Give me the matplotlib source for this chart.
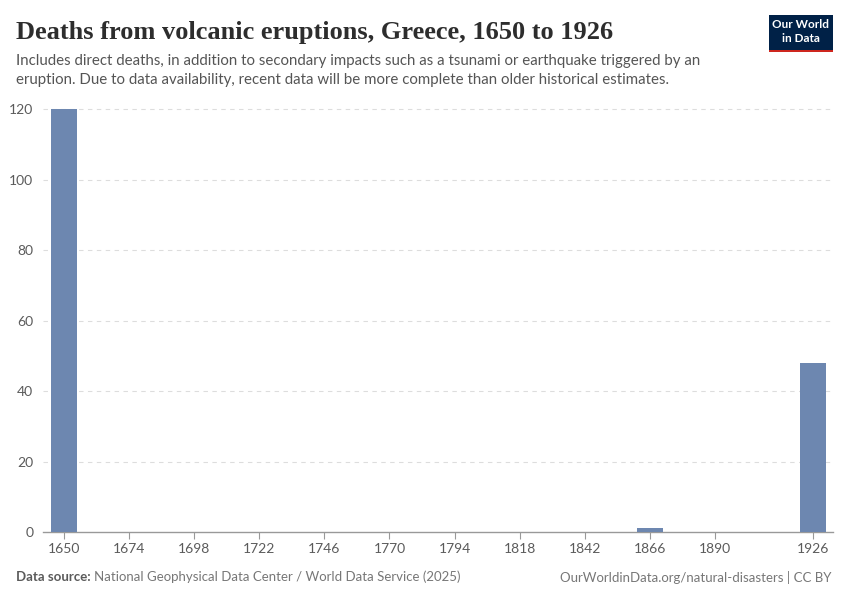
import numpy as np
import matplotlib.pyplot as plt
from matplotlib.patches import Rectangle

years = [1650, 1866, 1926]
deaths = [120, 1, 48]
xticks = [1650, 1674, 1698, 1722, 1746, 1770, 1794, 1818, 1842, 1866, 1890, 1926]
yticks = [0, 20, 40, 60, 80, 100, 120]

plt.rcParams['font.family'] = ['Lato', 'DejaVu Sans']

fig = plt.figure(figsize=(8.5, 6), dpi=100)
ax = fig.add_axes([43/850, 68/600, 790/850, 424/600])

ax.bar(years, deaths, width=9.6, color='#6d87b0', zorder=3)
ax.set_xlim(1642.3, 1933.5)
ax.set_ylim(0, 120.3)

ax.set_xticks(xticks)
ax.set_xticklabels([str(x) for x in xticks])
ax.set_yticks(yticks)
ax.tick_params(axis='x', length=5, color='#999999', labelsize=10, labelcolor='#5b5b5b', pad=3)
ax.tick_params(axis='y', length=0, labelsize=10, labelcolor='#5b5b5b', pad=7)
for lab in ax.get_yticklabels():
    lab.set_horizontalalignment('right')

for y in yticks[1:]:
    ax.axhline(y, color='#dddddd', lw=0.8, ls=(0, (4, 4)), zorder=1)

for s in ['top', 'right', 'left']:
    ax.spines[s].set_visible(False)
ax.spines['bottom'].set_color('#999999')
ax.spines['bottom'].set_linewidth(1)

fig.text(16/850, 1 - 32/600, 'Deaths from volcanic eruptions, Greece, 1650 to 1926',
         family=['Liberation Serif', 'DejaVu Serif'], fontsize=19, color='#2d2d2d', va='center',
         weight='bold')
fig.text(16/850, 1 - 61/600,
         'Includes direct deaths, in addition to secondary impacts such as a tsunami or earthquake triggered by an',
         fontsize=10.8, color='#555555', va='center')
fig.text(16/850, 1 - 80/600,
         'eruption. Due to data availability, recent data will be more complete than older historical estimates.',
         fontsize=10.8, color='#555555', va='center')

# logo
fig.patches.append(Rectangle((769/850, 1 - 52/600), 64/850, 37/600, transform=fig.transFigure,
                             facecolor='#002147', edgecolor='none'))
fig.patches.append(Rectangle((769/850, 1 - 52/600), 64/850, 2.5/600, transform=fig.transFigure,
                             facecolor='#ce261e', edgecolor='none'))
fig.text(801/850, 1 - 25/600, 'Our World', color='white', fontsize=8.5, ha='center', va='center',
         weight='bold')
fig.text(801/850, 1 - 39/600, 'in Data', color='white', fontsize=8.5, ha='center', va='center',
         weight='bold')

fig.text(16/850, 1 - 577/600, 'Data source:', fontsize=9.5, color='#5b5b5b', weight='bold', va='center')
fig.text(94/850, 1 - 577/600, 'National Geophysical Data Center / World Data Service (2025)',
         fontsize=9.5, color='#777777', va='center')
fig.text(832/850, 1 - 577/600, 'OurWorldinData.org/natural-disasters | CC BY',
         fontsize=9.5, color='#777777', va='center', ha='right')

fig.savefig('out.png', dpi=100)
